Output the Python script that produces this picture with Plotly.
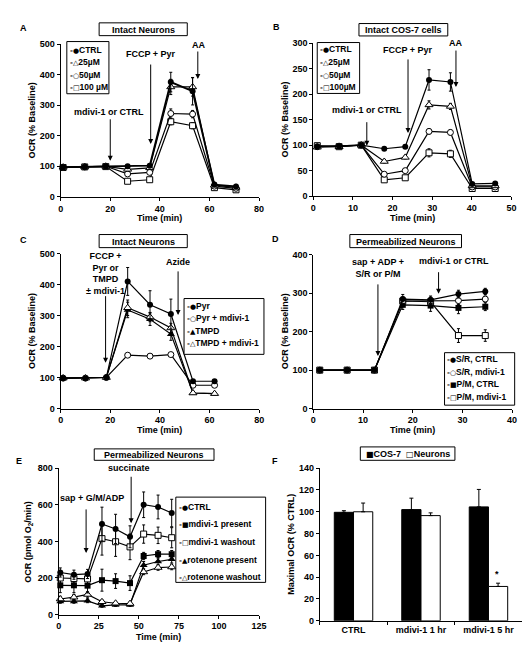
import plotly.graph_objects as go

W, H = 532, 649

# ---------------- data ----------------
# Panel A: Intact neurons
tA = [1, 9.7, 18.2, 27, 35.9, 44.4, 53.2, 62, 70.7]
A_ctrl = [97, 98, 100, 100, 102, 376, 346, 40, 34]
A_25 = [97, 98, 100, 90, 95, 360, 360, 38, 31]
A_50 = [97, 98, 100, 75, 80, 273, 271, 35, 28]
A_100 = [96, 98, 99, 51, 56, 246, 233, 30, 23]
A_ctrl_err = [3, 3, 2, 5, 6, 32, 45, 4, 3]
A_25_err = [3, 3, 2, 5, 5, 25, 30, 4, 3]
A_50_err = [3, 3, 2, 5, 5, 15, 12, 3, 3]
A_100_err = [3, 3, 2, 4, 4, 10, 10, 3, 3]

# Panel B: Intact COS-7
tB = [1, 6.5, 12.1, 17.9, 23.2, 29.2, 34.6, 40.1, 45.9]
B_ctrl = [97, 98, 100, 93, 97, 228, 224, 24, 25]
B_25 = [96, 97, 100, 68, 76, 179, 176, 20, 20]
B_50 = [97, 98, 100, 43, 50, 127, 125, 18, 18]
B_100 = [99, 97, 100, 32, 36, 85, 83, 15, 15]
B_ctrl_err = [2, 2, 1, 3, 3, 20, 18, 2, 2]
B_25_err = [2, 2, 1, 3, 3, 8, 6, 2, 2]
B_50_err = [2, 2, 1, 3, 3, 5, 5, 2, 2]
B_100_err = [2, 2, 1, 2, 2, 8, 7, 2, 2]

# Panel C: Intact neurons, Pyr / TMPD
tC = [1, 10, 18.4, 27, 36, 44.4, 53.3, 62]
C_pyr = [98, 98, 100, 410, 335, 305, 88, 88]
C_pyr_m = [98, 98, 100, 172, 169, 174, 75, 75]
C_tmpd = [98, 98, 100, 318, 288, 240, 50, 48]
C_tmpd_m = [98, 98, 100, 325, 295, 260, 50, 48]
C_pyr_err = [3, 3, 2, 45, 45, 48, 5, 5]
C_pyr_m_err = [3, 3, 2, 6, 5, 6, 4, 4]
C_tmpd_err = [3, 3, 2, 25, 20, 20, 4, 4]
C_tmpd_m_err = [3, 3, 2, 25, 15, 15, 4, 4]

# Panel D: Permeabilized neurons
tD = [1.3, 6.8, 12.3, 18, 23.6, 29.2, 34.6]
D_sr_c = [100, 100, 100, 285, 283, 298, 305]
D_sr_m = [100, 100, 100, 280, 280, 281, 285]
D_pm_c = [100, 100, 100, 270, 268, 262, 265]
D_pm_m = [100, 100, 100, 280, 278, 190, 190]
D_sr_c_err = [2, 2, 2, 12, 10, 10, 8]
D_sr_m_err = [2, 2, 2, 10, 10, 10, 8]
D_pm_c_err = [2, 2, 2, 12, 15, 15, 10]
D_pm_m_err = [2, 2, 2, 10, 10, 18, 15]

# Panel E: Permeabilized neurons (pmol O2/min)
tE = [1, 9.5, 18, 27, 35.5, 44.5, 53, 62, 70.5]
E_ctrl = [230, 218, 222, 495, 468, 425, 600, 588, 555]
E_mpres = [160, 160, 158, 188, 183, 172, 320, 330, 330]
E_mwash = [200, 197, 195, 415, 398, 370, 440, 433, 420]
E_rpres = [72, 72, 75, 48, 53, 53, 270, 290, 302]
E_rwash = [85, 95, 110, 70, 62, 60, 233, 257, 260]
E_ctrl_err = [25, 25, 25, 92, 80, 60, 70, 65, 75]
E_mpres_err = [40, 40, 40, 60, 40, 40, 20, 20, 20]
E_mwash_err = [30, 30, 30, 90, 80, 70, 50, 45, 55]
E_rpres_err = [10, 10, 10, 8, 8, 8, 20, 20, 20]
E_rwash_err = [15, 15, 15, 10, 8, 8, 15, 15, 15]

# Panel F: Maximal OCR
F_cats = ["CTRL", "mdivi-1 1 hr", "mdivi-1 5 hr"]
F_cos7 = [99.5, 102, 104.5]
F_cos7_err = [1.5, 10.5, 16]
F_neur = [100, 96.5, 31.5]
F_neur_err = [8, 2.5, 3]

# ---------------- helpers ----------------
def px(x):
    return x / W


def py(y):
    return 1 - y / H


fig = go.Figure()

panels = [
    # x pixel span, y pixel span (top, bottom), xrange, xdtick, yrange, ydtick
    dict(x=(50.7, 253.3), y=(31.7, 186.7), xr=[0, 80], xd=20, yr=[0, 500], yd=100),
    dict(x=(308.7, 511.0), y=(30.7, 186.0), xr=[0, 50], xd=10, yr=[0, 300], yd=50),
    dict(x=(50.7, 253.5), y=(244.3, 401.7), xr=[0, 80], xd=20, yr=[0, 500], yd=100),
    dict(x=(308.7, 511.7), y=(245.7, 401.7), xr=[0, 40], xd=10, yr=[0, 400], yd=100),
    dict(x=(48.7, 253.3), y=(462.3, 611.0), xr=[0, 125], xd=25, yr=[0, 800], yd=200),
    dict(x=(315.3, 522.0), y=(462.3, 617.3), xr=[-0.5, 2.5], xd=None, yr=[0, 140], yd=20),
]

axis_common = dict(showline=True, linecolor="black", linewidth=1, ticks="outside",
                   ticklen=3, tickcolor="black", tickwidth=1, showgrid=False,
                   zeroline=False, fixedrange=True, tickfont=dict(size=9))

layout_axes = {}
for i, p in enumerate(panels):
    n = "" if i == 0 else str(i + 1)
    xa = dict(axis_common, domain=[px(p["x"][0]), px(p["x"][1])],
              range=p["xr"], anchor="y" + n)
    if p["xd"] is not None:
        xa.update(dtick=p["xd"], tick0=0)
    else:
        xa.update(type="category", tickson="boundaries")
    ya = dict(axis_common, domain=[py(p["y"][1]), py(p["y"][0])],
              range=p["yr"], dtick=p["yd"], tick0=0, anchor="x" + n)
    layout_axes["xaxis" + n] = xa
    layout_axes["yaxis" + n] = ya

STY = {
    "fc": dict(symbol="circle", color="black", size=6),
    "oc": dict(symbol="circle", color="white", size=6, line=dict(color="black", width=1)),
    "fs": dict(symbol="square", color="black", size=6),
    "os": dict(symbol="square", color="white", size=6, line=dict(color="black", width=1)),
    "ft": dict(symbol="triangle-up", color="black", size=7),
    "ot": dict(symbol="triangle-up", color="white", size=7, line=dict(color="black", width=1)),
}


def line_trace(t, v, err, sty, ax, lw=1.2):
    n = "" if ax == 1 else str(ax)
    return go.Scatter(
        x=t, y=v, mode="lines+markers", xaxis="x" + n, yaxis="y" + n,
        line=dict(color="black", width=lw), marker=STY[sty],
        error_y=dict(type="data", array=err, color="black", thickness=1, width=1.5),
        cliponaxis=False, showlegend=False, hoverinfo="skip")


# Panel A (draw lower series first)
fig.add_trace(line_trace(tA, A_100, A_100_err, "os", 1))
fig.add_trace(line_trace(tA, A_50, A_50_err, "oc", 1))
fig.add_trace(line_trace(tA, A_25, A_25_err, "ot", 1))
fig.add_trace(line_trace(tA, A_ctrl, A_ctrl_err, "fc", 1, lw=1.8))

# Panel B
fig.add_trace(line_trace(tB, B_100, B_100_err, "os", 2))
fig.add_trace(line_trace(tB, B_50, B_50_err, "oc", 2))
fig.add_trace(line_trace(tB, B_25, B_25_err, "ot", 2))
fig.add_trace(line_trace(tB, B_ctrl, B_ctrl_err, "fc", 2))

# Panel C
fig.add_trace(line_trace(tC, C_pyr_m, C_pyr_m_err, "oc", 3))
fig.add_trace(line_trace(tC, C_tmpd, C_tmpd_err, "ft", 3))
fig.add_trace(line_trace(tC, C_tmpd_m, C_tmpd_m_err, "ot", 3))
fig.add_trace(line_trace(tC, C_pyr, C_pyr_err, "fc", 3))

# Panel D
fig.add_trace(line_trace(tD, D_pm_c, D_pm_c_err, "fs", 4))
fig.add_trace(line_trace(tD, D_pm_m, D_pm_m_err, "os", 4))
fig.add_trace(line_trace(tD, D_sr_m, D_sr_m_err, "oc", 4))
fig.add_trace(line_trace(tD, D_sr_c, D_sr_c_err, "fc", 4))

# Panel E
fig.add_trace(line_trace(tE, E_rpres, E_rpres_err, "ft", 5))
fig.add_trace(line_trace(tE, E_rwash, E_rwash_err, "ot", 5))
fig.add_trace(line_trace(tE, E_mpres, E_mpres_err, "fs", 5))
fig.add_trace(line_trace(tE, E_mwash, E_mwash_err, "os", 5))
fig.add_trace(line_trace(tE, E_ctrl, E_ctrl_err, "fc", 5))

# Panel F bars
fig.add_trace(go.Bar(
    x=F_cats, y=F_cos7, xaxis="x6", yaxis="y6", name="COS-7",
    marker=dict(color="black", line=dict(color="black", width=1)),
    error_y=dict(type="data", array=F_cos7_err, arrayminus=[0] * len(F_cos7_err),
                 symmetric=False, color="black", thickness=1, width=2),
    showlegend=False, hoverinfo="skip"))
fig.add_trace(go.Bar(
    x=F_cats, y=F_neur, xaxis="x6", yaxis="y6", name="Neurons",
    marker=dict(color="white", line=dict(color="black", width=1)),
    error_y=dict(type="data", array=F_neur_err, arrayminus=[0] * len(F_neur_err),
                 symmetric=False, color="black", thickness=1, width=2),
    showlegend=False, hoverinfo="skip"))

# ---------------- annotations / decorations ----------------
ann = []
shapes = []


def txt(x, y, s, size=9, xanchor="center", **kw):
    ann.append(dict(x=px(x), y=py(y), xref="paper", yref="paper", text=s,
                    showarrow=False, font=dict(size=size), xanchor=xanchor,
                    yanchor="middle", **kw))


def arrow(ax_i, x, y, ay):
    n = "" if ax_i == 1 else str(ax_i)
    ann.append(dict(x=x, y=y, xref="x" + n, yref="y" + n, ax=0, ay=ay, text="",
                    showarrow=True, arrowhead=2, arrowsize=1, arrowwidth=1,
                    arrowcolor="black", standoff=0))


def box(x0, y0, x1, y1):
    shapes.append(dict(type="rect", xref="paper", yref="paper", x0=px(x0), x1=px(x1),
                       y0=py(y1), y1=py(y0), line=dict(color="black", width=1),
                       fillcolor="white", layer="above"))


# panel letters
for s, x, y in [("A", 13, 15), ("B", 271, 14), ("C", 13, 231), ("D", 270, 230),
                ("E", 8, 455), ("F", 270, 455)]:
    txt(x, y, s, size=9)

# title boxes
for s, x0, y0, x1, y1 in [("Intact Neurons", 90, 10, 180, 23),
                          ("Intact COS-7 cells", 355.3, 10.7, 446, 23.3),
                          ("Intact Neurons", 90, 225, 180, 238.3),
                          ("Permeabilized Neurons", 346, 225, 460, 238.3),
                          ("Permeabilized Neurons", 85, 442.7, 207.3, 454.3)]:
    box(x0, y0, x1, y1)
    txt((x0 + x1) / 2, (y0 + y1) / 2 + 0.5, s)

# axis titles
yt = "OCR (% Baseline)"
txt(21.5, 109, yt, textangle=-90)
txt(280, 108, yt, textangle=-90)
txt(21.5, 323, yt, textangle=-90)
txt(280, 323, yt, textangle=-90)
txt(18.5, 537, "OCR (pmol O<sub>2</sub>/min)", textangle=-90)
txt(286, 540, "Maximal OCR (% CTRL)", textangle=-90)
for x, y in [(152, 208), (410, 208), (152, 424), (410, 424), (151, 634)]:
    txt(x, y, "Time (min)")

# Panel A annotations
txt(100, 101, "mdivi-1 or CTRL")
arrow(1, 20, 118, -43)
txt(143, 42, "FCCP + Pyr")
arrow(1, 36.3, 173, -81)
txt(191.7, 33, "AA")
arrow(1, 55.3, 386, -29)

# Panel B annotations
txt(363.3, 99, "mdivi-1 or CTRL")
arrow(2, 13.5, 99, -25)
txt(405.3, 37.7, "FCCP + Pyr")
arrow(2, 23.9, 124, -75)
txt(454.3, 30.7, "AA")
arrow(2, 36, 214, -38)

# Panel C annotations
txt(96.7, 265, "FCCP +<br>Pyr or<br>TMPD<br>± mdivi-1")
arrow(3, 18.1, 148, -68)
txt(170.7, 253.3, "Azide")
arrow(3, 47.3, 302, -45)

# Panel D annotations
txt(374.3, 259, "sap + ADP +<br>S/R or P/M")
arrow(4, 13.0, 137, -73)
txt(452.7, 251.7, "mdivi-1 or CTRL")
arrow(4, 25.2, 299, -23)

# Panel E annotations
txt(82.7, 492.3, "sap + G/M/ADP")
arrow(5, 17.1, 337, -45)
txt(120, 462.3, "succinate")
arrow(5, 45.2, 499, -48)

# Panel F star
txt(496.7, 570, "*")


# legends
def legend(x0, y0, x1, y1, rows, xt):
    box(x0, y0, x1, y1)
    for yy, s in rows:
        txt(xt, yy, s, size=8.5, xanchor="left")


g = lambda c: "<span style='font-family:DejaVu Sans;font-size:7px'>-" + c + "</span>"

legend(57, 29, 100, 82,
       [(37.3, g("●") + "CTRL"), (50, g("△") + "25µM"),
        (62.7, g("○") + "50µM"), (75.3, g("□") + "100 µM")], 58)
legend(312.7, 30, 356, 81.7,
       [(37, g("●") + "CTRL"), (50, g("△") + "25µM"),
        (62.5, g("○") + "50µM"), (75, g("□") + "100µM")], 313.5)
legend(176.7, 290, 258.3, 346.7,
       [(297.3, g("●") + "Pyr"), (310, g("○") + "Pyr + mdivi-1"),
        (322.7, g("▲") + "TMPD"), (335.3, g("△") + "TMPD + mdivi-1")], 177.5)
legend(442.7, 345, 514.3, 398.3,
       [(351.7, g("●") + "S/R, CTRL"), (364.3, g("○") + "S/R, mdivi-1"),
        (377, g("■") + "P/M, CTRL"), (390, g("□") + "P/M, mdivi-1")], 443.5)
legend(168.3, 491.7, 260, 578.3,
       [(501.7, g("●") + "CTRL"), (519.3, g("■") + "mdivi-1 present"),
        (537, g("□") + "mdivi-1 washout"), (555.5, g("▲") + "rotenone present"),
        (573, g("△") + "rotenone washout")], 169)
box(356.7, 440.7, 453.3, 454.3)
txt(405, 447.8, "<span style='font-family:DejaVu Sans;font-size:8px'>■</span>COS-7  "
    "<span style='font-family:DejaVu Sans;font-size:8px'>□</span>Neurons")

fig.update_layout(
    width=W, height=H, margin=dict(l=0, r=0, t=0, b=0),
    paper_bgcolor="white", plot_bgcolor="white",
    font=dict(family="Liberation Sans, Arial, sans-serif", size=9, color="black",
              weight="bold"),
    barmode="group", bargap=0.43, bargroupgap=0,
    annotations=ann, shapes=shapes, showlegend=False,
    **layout_axes)

fig.write_html("out.html")
